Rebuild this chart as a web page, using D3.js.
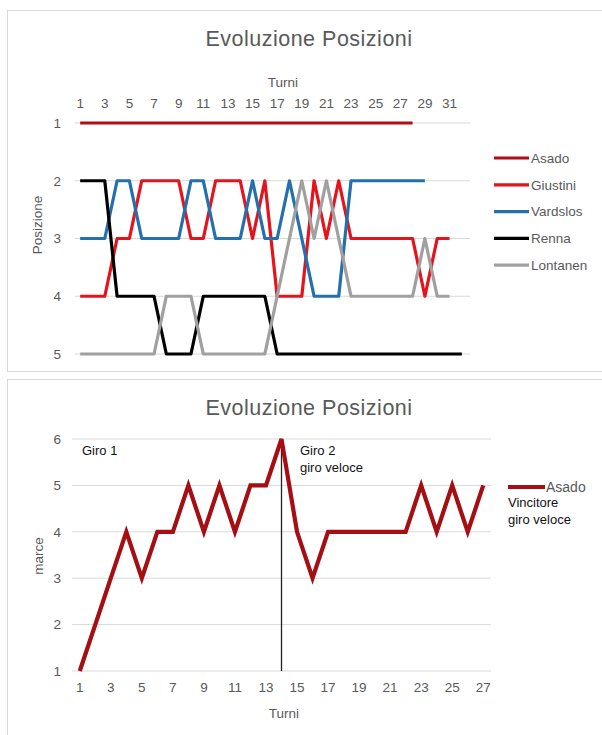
<!DOCTYPE html>
<html><head><meta charset="utf-8">
<script src="https://cdn.jsdelivr.net/npm/d3@7"></script>
<style>
body{margin:0;background:#fff;}
text{font-family:"Liberation Sans",Arial,sans-serif;}
</style></head>
<body><svg id="c" width="602" height="735"></svg>
<script>
// ---- Data: top chart (positions per turn) ----
const turnsTop = d3.range(1, 33);
const asado = Array(28).fill(1);
const giustini = [4,4,4,3,3,2,2,2,2,3,3,2,2,2,3,2,4,4,4,2,3,2,3,3,3,3,3,3,4,3,3];
const vardslos = [3,3,3,2,2,3,3,3,3,2,2,3,3,3,2,3,3,2,3,4,4,4,2,2,2,2,2,2,2];
const renna = [2,2,2,4,4,4,4,5,5,5,4,4,4,4,4,4,5,5,5,5,5,5,5,5,5,5,5,5,5,5,5,5];
const lontanen = [5,5,5,5,5,5,5,4,4,4,5,5,5,5,5,5,4,3,2,3,2,3,4,4,4,4,4,4,3,4,4];
const seriesNames = ["Asado","Giustini","Vardslos","Renna","Lontanen"];
const seriesColors = ["#b00d14","#e3141b","#2370ad","#000000","#a0a0a0"];
const topTickLabels = d3.range(1, 32, 2);
const positions = [1,2,3,4,5];

// ---- Data: bottom chart (gears of Asado) ----
const turnsBottom = d3.range(1, 28);
const marce = [1,2,3,4,3,4,4,5,4,5,4,5,5,6,4,3,4,4,4,4,4,4,5,4,5,4,5];
const bottomTickLabels = d3.range(1, 28, 2);
const marceTicks = [1,2,3,4,5,6];
const lapMarkTurn = 14;

const svg = d3.select("#c");
const grey = "#595959";
const titleFont = "'Open Sans', sans-serif";

// chart frames
svg.append("rect").attr("x",7.5).attr("y",10.5).attr("width",620).attr("height",361)
  .attr("fill","#fff").attr("stroke","#d9d9d9");
svg.append("rect").attr("x",7.5).attr("y",379.5).attr("width",620).attr("height",380)
  .attr("fill","#fff").attr("stroke","#d9d9d9");

// ===== TOP CHART =====
const x1 = d3.scaleBand().domain(turnsTop).range([74, 468]);
const y1 = d3.scaleLinear().domain([1,5]).range([123, 354]);
const cx1 = t => x1(t) + x1.bandwidth()/2;

svg.append("text").attr("x",309).attr("y",46).attr("text-anchor","middle")
  .attr("font-size",21.5).attr("letter-spacing",0.5).attr("fill",grey).attr("font-family",titleFont).text("Evoluzione Posizioni");

// grid
svg.append("g").selectAll("line").data(positions).join("line")
  .attr("x1",75).attr("x2",470).attr("y1",d=>y1(d)).attr("y2",d=>y1(d))
  .attr("stroke","#d9d9d9").attr("stroke-width",1);

// top x axis
const ax1 = d3.axisTop(x1).tickValues(topTickLabels).tickSize(0).tickPadding(0);
const gx1 = svg.append("g").attr("transform","translate(0,108)").call(ax1);
gx1.select(".domain").remove();
gx1.selectAll("text").attr("font-size",13.5).attr("fill",grey).attr("dy",0);
svg.append("text").attr("x",283).attr("y",87).attr("text-anchor","middle")
  .attr("font-size",13.5).attr("fill",grey).text("Turni");

// y axis
const ay1 = d3.axisLeft(y1).tickValues(positions).tickFormat(d3.format("d")).tickSize(0).tickPadding(0);
const gy1 = svg.append("g").attr("transform","translate(61,0)").call(ay1);
gy1.select(".domain").remove();
gy1.selectAll("text").attr("font-size",13.5).attr("fill",grey);
svg.append("text").attr("transform","translate(42,225) rotate(-90)").attr("text-anchor","middle")
  .attr("font-size",13.5).attr("fill",grey).text("Posizione");

const topData = [asado, giustini, vardslos, renna, lontanen];
const line1 = d3.line().x((d,i)=>cx1(turnsTop[i])).y(d=>y1(d));
svg.append("g").selectAll("path").data(topData).join("path")
  .attr("d", d=>line1(d)).attr("fill","none")
  .attr("stroke",(d,i)=>seriesColors[i]).attr("stroke-width",3.2)
  .attr("stroke-linejoin","round");

// legend top
const lg1 = svg.append("g").selectAll("g").data(seriesNames).join("g")
  .attr("transform",(d,i)=>`translate(494,${158 + i*26.8})`);
lg1.append("line").attr("x1",0).attr("x2",35).attr("stroke",(d,i)=>seriesColors[i]).attr("stroke-width",3.2);
lg1.append("text").attr("x",37).attr("dy","0.35em").attr("font-size",13.5).attr("fill",grey).text(d=>d);

// ===== BOTTOM CHART =====
const x2 = d3.scaleBand().domain(turnsBottom).range([72, 491]);
const y2 = d3.scaleLinear().domain([1,6]).range([671, 439]);
const cx2 = t => x2(t) + x2.bandwidth()/2;

svg.append("text").attr("x",309).attr("y",415).attr("text-anchor","middle")
  .attr("font-size",21.5).attr("letter-spacing",0.5).attr("fill",grey).attr("font-family",titleFont).text("Evoluzione Posizioni");

svg.append("g").selectAll("line").data(marceTicks).join("line")
  .attr("x1",72).attr("x2",491).attr("y1",d=>y2(d)).attr("y2",d=>y2(d))
  .attr("stroke","#d9d9d9").attr("stroke-width",1);

const ax2 = d3.axisBottom(x2).tickValues(bottomTickLabels).tickSize(0).tickPadding(0);
const gx2 = svg.append("g").attr("transform","translate(0,682)").call(ax2);
gx2.select(".domain").remove();
gx2.selectAll("text").attr("font-size",13.5).attr("fill",grey);
svg.append("text").attr("x",284).attr("y",718).attr("text-anchor","middle")
  .attr("font-size",13.5).attr("fill",grey).text("Turni");

const ay2 = d3.axisLeft(y2).tickValues(marceTicks).tickFormat(d3.format("d")).tickSize(0).tickPadding(0);
const gy2 = svg.append("g").attr("transform","translate(61,0)").call(ay2);
gy2.select(".domain").remove();
gy2.selectAll("text").attr("font-size",13.5).attr("fill",grey);
svg.append("text").attr("transform","translate(43,556) rotate(-90)").attr("text-anchor","middle")
  .attr("font-size",13.5).attr("fill",grey).text("marce");

// lap marker
svg.append("line").attr("x1",cx2(lapMarkTurn)).attr("x2",cx2(lapMarkTurn))
  .attr("y1",y2(6)).attr("y2",y2(1)).attr("stroke","#222").attr("stroke-width",1.3);

const line2 = d3.line().x((d,i)=>cx2(turnsBottom[i])).y(d=>y2(d));
svg.append("path").attr("d",line2(marce)).attr("fill","none")
  .attr("stroke","#a50e12").attr("stroke-width",4.2).attr("stroke-linejoin","miter");

const ann = "Lato, 'Open Sans', sans-serif";
svg.append("text").attr("x",82).attr("y",455).attr("font-size",13).attr("font-family",ann).attr("fill","#111").text("Giro 1");
svg.append("text").attr("x",300).attr("y",455).attr("font-size",13).attr("font-family",ann).attr("fill","#111").text("Giro 2");
svg.append("text").attr("x",300).attr("y",472).attr("font-size",13).attr("font-family",ann).attr("fill","#111").text("giro veloce");

// legend bottom
svg.append("line").attr("x1",508).attr("x2",545).attr("y1",487).attr("y2",487).attr("stroke","#a50e12").attr("stroke-width",4.2);
svg.append("text").attr("x",546).attr("y",487).attr("dy","0.35em").attr("font-size",14).attr("fill",grey).text("Asado");
svg.append("text").attr("x",508).attr("y",507).attr("font-size",13).attr("font-family",ann).attr("fill","#111").text("Vincitore");
svg.append("text").attr("x",508).attr("y",524).attr("font-size",13).attr("font-family",ann).attr("fill","#111").text("giro veloce");
</script></body></html>
